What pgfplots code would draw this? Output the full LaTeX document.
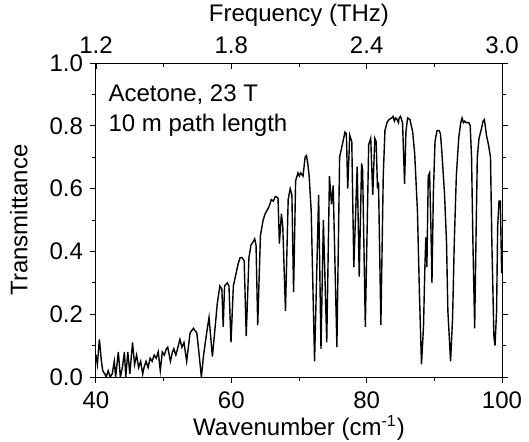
\documentclass[border=0pt]{standalone}
\usepackage{fontspec}
\setmainfont{Liberation Sans}
\usepackage{pgfplots}
\pgfplotsset{compat=1.18}
\pgfplotstableread{
x y
40.0 0.07
40.2 0.04
40.5 0.12
40.8 0.05
41.0 0.02
41.3 0.01
41.5 0.0
41.8 0.02
42.1 0.0
42.4 0.01
42.7 0.05
42.9 0.0
43.3 0.08
43.6 0.0
43.9 0.03
44.2 0.08
44.4 0.0
44.7 0.08
45.0 0.01
45.4 0.11
45.7 0.04
46.0 0.07
46.3 0.03
46.6 0.05
46.9 0.01
47.1 0.03
47.4 0.05
47.7 0.03
48.0 0.06
48.3 0.05
48.6 0.07
48.9 0.06
49.2 0.08
49.5 0.02
49.8 0.08
50.1 0.07
50.4 0.09
50.6 0.095
51.0 0.05
51.3 0.08
51.5 0.09
51.8 0.07
52.0 0.085
52.4 0.12
52.7 0.095
53.0 0.11
53.4 0.05
53.9 0.14
54.4 0.155
54.9 0.14
55.2 0.08
55.57 0.0
55.9 0.07
56.35 0.14
56.7 0.19
57.2 0.065
57.7 0.18
57.9 0.23
58.3 0.29
58.6 0.28
58.8 0.16
59.0 0.29
59.4 0.30
59.65 0.29
59.95 0.11
60.3 0.29
60.6 0.32
61.0 0.36
61.3 0.38
61.6 0.38
61.9 0.37
62.2 0.13
62.6 0.38
62.9 0.42
63.2 0.43
63.45 0.44
63.65 0.42
63.9 0.165
64.3 0.45
64.7 0.50
65.0 0.52
65.4 0.535
65.7 0.55
65.9 0.565
66.2 0.56
66.5 0.575
66.9 0.57
67.1 0.425
67.4 0.52
67.6 0.48
68.0 0.21
68.4 0.565
68.7 0.60
68.95 0.58
69.2 0.27
69.5 0.625
69.85 0.65
70.05 0.64
70.25 0.65
70.6 0.64
70.9 0.70
71.1 0.705
71.3 0.68
71.5 0.64
71.8 0.53
72.3 0.05
72.9 0.58
73.25 0.09
73.6 0.50
74.1 0.11
74.5 0.64
74.8 0.55
75.05 0.61
75.6 0.095
76.0 0.70
76.4 0.74
76.8 0.78
77.0 0.775
77.2 0.60
77.5 0.77
77.8 0.75
78.1 0.35
78.6 0.67
78.9 0.32
79.25 0.68
79.4 0.66
79.8 0.16
80.3 0.74
80.6 0.76
80.9 0.58
81.2 0.76
81.4 0.75
81.6 0.60
81.75 0.62
82.1 0.165
82.45 0.64
82.7 0.785
83.0 0.81
83.3 0.82
83.7 0.825
83.9 0.83
84.1 0.815
84.3 0.825
84.5 0.82
84.7 0.81
84.8 0.825
85.0 0.83
85.3 0.81
85.6 0.615
85.8 0.78
86.05 0.825
86.4 0.82
86.8 0.78
87.1 0.71
87.5 0.53
87.8 0.265
88.1 0.04
88.4 0.16
88.6 0.35
88.75 0.445
88.9 0.35
89.1 0.64
89.3 0.65
89.5 0.47
89.65 0.30
89.85 0.58
90.1 0.75
90.4 0.785
90.7 0.785
90.9 0.775
91.1 0.72
91.5 0.585
91.8 0.43
92.0 0.21
92.4 0.05
92.7 0.19
92.95 0.43
93.25 0.64
93.6 0.76
93.9 0.81
94.1 0.825
94.3 0.81
94.5 0.815
94.7 0.81
94.9 0.81
95.1 0.81
95.3 0.80
95.5 0.70
95.7 0.43
95.96 0.155
96.15 0.43
96.35 0.70
96.6 0.76
96.9 0.785
97.2 0.815
97.4 0.82
97.7 0.77
98.0 0.74
98.3 0.70
98.5 0.43
98.8 0.13
98.97 0.10
99.2 0.21
99.36 0.48
99.56 0.56
99.75 0.56
99.95 0.33
}\spectrum
\begin{document}
\begin{tikzpicture}
\pgfplotsset{
  every axis/.append style={font=\fontsize{12}{14}\selectfont},
  tick label style={font=\fontsize{12}{14}\selectfont},
  label style={font=\fontsize{12}{14}\selectfont},
}
\begin{axis}[
  name=ax,
  scale only axis,
  width=203pt, height=157pt,
  xmin=40, xmax=100, ymin=0, ymax=1,
  xtick={40,60,80,100},
  minor x tick num=1,
  ytick={0,0.2,0.4,0.6,0.8,1.0},
  minor y tick num=1,
  tick align=outside,
  xtick pos=left,
  ytick pos=both,
  yticklabel pos=left,
  major tick length=3pt,
  minor tick length=1.8pt,
  axis line style={line width=0.5pt},
  every tick/.style={black, line width=0.5pt},
  /pgf/number format/assume math mode=true,
  yticklabel style={/pgf/number format/.cd, fixed, fixed zerofill, precision=1},
  xticklabel style={inner ysep=1pt, yshift=-3pt, /pgf/number format/.cd, fixed, precision=0},
  xlabel={Wavenumber (cm\textsuperscript{-1})},
  ylabel={Transmittance},
  x label style={at={(axis description cs:0.5,-0.162)}, anchor=center, inner ysep=1pt},
  y label style={at={(axis description cs:-0.19,0.5)}, anchor=center},
]
\addplot[black, line width=0.7pt] table[x=x, y=y] {\spectrum};
\node[anchor=west, align=left, inner sep=0pt] at (axis cs:41.8,0.898) {Acetone, 23 T};
\node[anchor=west, align=left, inner sep=0pt] at (axis cs:41.8,0.803) {10 m path length};
\end{axis}
\begin{axis}[
  scale only axis,
  width=203pt, height=157pt,
  xmin=1.2, xmax=3.0, ymin=0, ymax=1,
  axis x line*=top,
  axis y line=none,
  xtick={1.2,1.8,2.4,3.0},
  minor x tick num=1,
  tick align=inside,
  major tick length=3pt,
  minor tick length=1.8pt,
  axis line style={line width=0.5pt},
  every tick/.style={black, line width=0.5pt},
  /pgf/number format/assume math mode=true,
  xticklabel style={yshift=1pt, /pgf/number format/.cd, fixed, fixed zerofill, precision=1},
  xlabel={Frequency (THz)},
  x label style={at={(axis description cs:0.5,1.152)}, anchor=center},
]
\end{axis}
\pgfresetboundingbox
\path ([shift={(-48pt,-32pt)}]ax.south west) rectangle ([shift={(13.5pt,31.5pt)}]ax.north east);
\end{tikzpicture}
\end{document}
